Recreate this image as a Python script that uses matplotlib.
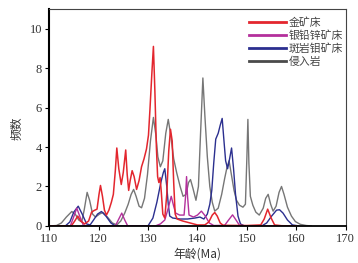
import matplotlib
matplotlib.use('Agg')
import matplotlib.pyplot as plt
from matplotlib.lines import Line2D

# traced curves (age in Ma, frequency)
gold_x = [110, 114.5, 115.2, 115.8, 116.4, 117.2, 118, 118.6, 119.1, 119.7, 120.1, 120.4,
          120.8, 121.2, 121.6, 122.1, 122.6, 123.0, 123.4, 123.7, 124.1, 124.6, 125.0, 125.5,
          125.8, 126.1, 126.4, 126.8, 127.2, 127.7, 128.2, 128.7, 129.2, 129.7, 130.1, 130.4,
          130.8, 131.1, 131.4, 131.7, 131.95, 132.2, 132.45, 132.7, 133.0, 133.4, 133.8, 134.2,
          134.55, 134.9, 135.2, 135.5, 135.9, 137, 138.5, 140, 141.5, 142.3, 143.0, 143.5,
          144.0, 144.6, 145.2, 150, 152.8, 153.5, 154.2, 154.9, 155.6, 157, 160]
gold_y = [0, 0, 0.25, 0.5, 0.25, 0.1, 0.25, 0.7, 0.78, 0.85, 1.6, 2.05,
          1.5, 0.8, 0.55, 0.8, 1.2, 1.6, 2.8, 3.95, 2.9, 2.1, 2.7, 3.85,
          2.6, 1.8, 2.3, 2.8, 2.5, 1.85, 2.3, 3.0, 3.4, 3.9, 4.6, 5.9,
          7.8, 9.1, 6.8, 4.0, 2.5, 2.2, 2.45, 1.7, 0.6, 0.4, 1.6, 3.8,
          4.9, 4.3, 2.2, 0.6, 0.35, 0.25, 0.15, 0.05, 0.05, 0.2, 0.55, 0.68,
          0.5, 0.15, 0.03, 0.02, 0.05, 0.35, 0.85, 0.4, 0.05, 0.01, 0]

agpbzn_x = [110, 114.3, 114.9, 115.6, 116.2, 116.9, 117.5, 123.4, 124.0, 124.7, 125.3, 125.9,
            131.5, 132.5, 133.4, 134.1, 134.7, 135.2, 135.6, 136.4, 137.3, 137.6, 137.8, 138.0,
            138.3, 139.2, 140.0, 140.8, 141.6, 142.4, 143.3, 145.5, 146.3, 147.1, 147.8, 148.5,
            150, 160]
agpbzn_y = [0, 0, 0.4, 0.9, 0.5, 0.05, 0, 0, 0.3, 0.65, 0.3, 0,
            0, 0.1, 0.3, 0.9, 1.5, 1.0, 0.65, 0.55, 0.55, 1.5, 2.5, 1.5,
            0.55, 0.45, 0.55, 0.75, 0.5, 0.15, 0.02, 0.03, 0.3, 0.56, 0.3, 0.03,
            0, 0]

mo_x = [110, 113.3, 114.2, 115.0, 115.9, 116.7, 117.6, 118.3, 119.0, 119.8, 120.6, 121.5,
        122.5, 123.4, 130.0, 131.0, 131.8, 132.6, 133.1, 133.4, 133.8, 134.1, 134.4, 135.0,
        136.5, 138.0, 139.5, 140.5, 141.3, 142.0, 142.5, 142.9, 143.3, 143.7, 144.2, 144.6,
        145.0, 145.4, 145.7, 146.1, 146.5, 146.9, 147.3, 147.7, 148.2, 148.7, 149.5, 153.0,
        154.0, 155.0, 156.0, 156.6, 157.3, 158.2, 159.2, 160.5]
mo_y = [0, 0, 0.2, 0.7, 1.0, 0.6, 0.1, 0.05, 0.3, 0.6, 0.73, 0.5,
        0.15, 0, 0, 0.4, 1.2, 2.2, 2.7, 2.9, 2.0, 1.1, 0.5, 0.4,
        0.35, 0.35, 0.4, 0.45, 0.35, 0.6, 1.1, 1.8, 3.2, 4.4, 4.7, 5.1,
        5.45, 4.2, 3.3, 2.9, 3.4, 3.95, 2.9, 1.6, 0.5, 0.1, 0, 0,
        0.15, 0.5, 0.8, 0.82, 0.65, 0.3, 0.05, 0]

intr_x = [110, 111.5, 112.5, 113.5, 114.6, 115.3, 116.0, 116.6, 117.1, 117.7, 118.2, 118.8,
          119.4, 120.2, 120.9, 121.8, 122.8, 123.7, 124.5, 125.3, 126.0, 126.6, 127.1, 127.6,
          128.2, 128.7, 129.3, 129.9, 130.5, 131.1, 131.6, 132.0, 132.5, 133.0, 133.6, 134.1,
          134.6, 135.2, 135.8, 136.5, 137.1, 137.7, 138.2, 138.6, 139.1, 139.7, 140.2, 140.6,
          141.1, 141.5, 142.0, 142.5, 143.0, 143.5, 144.2, 144.9, 145.5, 146.0, 146.4, 146.8,
          147.4, 147.9, 148.5, 149.2, 149.7, 150.0, 150.2, 150.4, 150.7, 151.2, 151.8, 152.5,
          153.3, 153.8, 154.3, 154.8, 155.3, 155.9, 156.5, 157.0, 157.5, 158.2, 159.0, 159.8,
          160.8, 162, 163]
intr_y = [0, 0.02, 0.15, 0.45, 0.73, 0.6, 0.3, 0.2, 0.8, 1.7, 1.3, 0.6,
          0.45, 0.6, 0.68, 0.45, 0.15, 0.05, 0.25, 0.65, 1.1, 1.6, 1.85, 1.5,
          1.0, 0.92, 1.4, 2.6, 4.3, 5.5, 4.6, 3.5, 3.0, 3.3, 4.7, 5.4,
          4.6, 3.4, 2.7, 2.0, 1.5, 1.6, 2.2, 2.35, 1.9, 1.3, 2.0, 4.5,
          7.5, 5.6, 3.5, 2.0, 1.2, 0.75, 0.9, 1.6, 2.4, 3.0, 3.3, 2.7,
          1.8, 1.3, 1.05, 0.95, 1.1, 3.5, 5.4, 3.2, 1.5, 1.05, 0.7, 0.55,
          0.9, 1.4, 1.6, 1.1, 0.75, 1.0, 1.7, 2.0, 1.6, 0.95, 0.5, 0.22,
          0.08, 0.02, 0]

labels = ['金矿床', '银铅锌矿床', '斑岩钼矿床', '侵入岩']
colors = ['#e3262e', '#b4309c', '#2b2f8f', '#767676']
legend_colors = ['#e3262e', '#b4309c', '#2b2f8f', '#4a4a4a']

cjk = ['Noto Sans CJK SC', 'DejaVu Sans']
plt.rcParams['font.family'] = ['Liberation Serif', 'Noto Sans CJK SC']

fig = plt.figure(figsize=(3.58, 2.63), dpi=100)
ax = fig.add_axes([0.137, 0.141, 0.829, 0.825])

ax.plot(intr_x, intr_y, color=colors[3], lw=1.0)
ax.plot(mo_x, mo_y, color=colors[2], lw=1.0)
ax.plot(agpbzn_x, agpbzn_y, color=colors[1], lw=1.0)
ax.plot(gold_x, gold_y, color=colors[0], lw=1.1)

ax.set_xlim(110, 170)
ax.set_ylim(0, 11)
ax.set_xticks(range(110, 171, 10))
ax.set_yticks(range(0, 11, 2))
ax.tick_params(labelsize=9, direction='out', length=3, width=0.8, pad=2,
               labelcolor='#333333')

ax.spines['left'].set_linewidth(1.5)
ax.spines['bottom'].set_linewidth(1.3)
for s in ['top', 'right']:
    ax.spines[s].set_linewidth(0.8)
    ax.spines[s].set_color('#444444')

ax.set_xlabel('年龄(Ma)', fontsize=8.5, family=cjk, labelpad=2, color='#333333')
ax.set_ylabel('频数', fontsize=8.5, family=cjk, color='#333333')
ax.yaxis.set_label_coords(-0.085, 0.45)

handles = [Line2D([0], [0], color=c, lw=2.0) for c in legend_colors]
ax.legend(handles, labels, loc='upper left', bbox_to_anchor=(0.655, 0.985),
          frameon=False, borderpad=0, handlelength=3.4, handletextpad=0.3,
          labelspacing=0.2, labelcolor='#444444',
          prop={'family': cjk, 'size': 7.8})

fig.savefig('out.png', dpi=100)
